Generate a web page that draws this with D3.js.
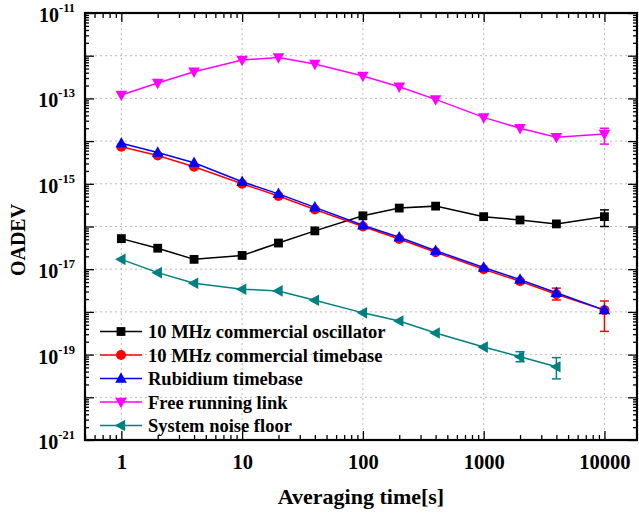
<!DOCTYPE html>
<html>
<head>
<meta charset="utf-8">
<script src="https://cdn.jsdelivr.net/npm/d3@7"></script>
<style>
  body { margin: 0; background: #fff; }
  text { font-family: "Liberation Serif", "Times New Roman", serif; font-weight: bold; }
</style>
</head>
<body>
<div id="vis"></div>
<script>
// averaging times
let tau = [1, 2, 4, 10, 20, 40, 100, 200, 400, 1000, 2000, 4000, 10000]

let oscillator = [5.2e-17, 3.1e-17, 1.7e-17, 2.1e-17, 4.1e-17, 7.9e-17, 1.78e-16, 2.7e-16, 3.0e-16, 1.7e-16, 1.42e-16, 1.15e-16, 1.7e-16]
let timebase   = [7.4e-15, 4.6e-15, 2.5e-15, 1.0e-15, 5.2e-16, 2.5e-16, 1.0e-16, 5.1e-17, 2.5e-17, 1.0e-17, 5.2e-18, 2.6e-18, 1.1e-18]
let rubidium   = [8.9e-15, 5.4e-15, 3.1e-15, 1.12e-15, 5.8e-16, 2.8e-16, 1.07e-16, 5.6e-17, 2.7e-17, 1.1e-17, 5.7e-18, 2.8e-18, 1.1e-18]
let freeLink   = [1.2e-13, 2.3e-13, 4.2e-13, 7.9e-13, 9.1e-13, 6.4e-13, 3.35e-13, 1.88e-13, 9.5e-14, 3.6e-14, 2.0e-14, 1.23e-14, 1.47e-14]
let noiseTau   = [1, 2, 4, 10, 20, 40, 100, 200, 400, 1000, 2000, 4000]
let noiseFloor = [1.7e-17, 8.3e-18, 4.7e-18, 3.4e-18, 3.1e-18, 1.87e-18, 9.5e-19, 6.1e-19, 3.2e-19, 1.5e-19, 8.9e-20, 5.2e-20]

// visible error bars: [tau, low, high]
let oscillatorErr = [[10000, 1.0e-16, 2.45e-16]]
let timebaseErr   = [[4000, 1.9e-18, 3.6e-18], [10000, 3.5e-19, 1.8e-18]]
let freeLinkErr   = [[10000, 8.5e-15, 2.0e-14]]
let noiseErr      = [[2000, 6.8e-20, 1.17e-19], [4000, 2.7e-20, 8.5e-20]]

let seriesNames = ['10 MHz commercial oscillator', '10 MHz commercial timebase', 'Rubidium timebase', 'Free running link', 'System noise floor']
let xTickLabels = [1, 10, 100, 1000, 10000]
let yTickLabels = [-21, -19, -17, -15, -13, -11]

let series = [
  {name: seriesNames[0], x: tau, y: oscillator, err: oscillatorErr, color: '#000000', symbol: 'square'},
  {name: seriesNames[1], x: tau, y: timebase, err: timebaseErr, color: '#ff0000', symbol: 'circle'},
  {name: seriesNames[2], x: tau, y: rubidium, err: [], color: '#0000ff', symbol: 'up'},
  {name: seriesNames[3], x: tau, y: freeLink, err: freeLinkErr, color: '#ff00ff', symbol: 'down'},
  {name: seriesNames[4], x: noiseTau, y: noiseFloor, err: noiseErr, color: '#008080', symbol: 'left'}
]

let width = 639, height = 513
let margin = {left: 85, right: 2, top: 13, bottom: 73}

let svg = d3.select('#vis').append('svg')
  .attr('width', width)
  .attr('height', height)

let x = d3.scaleLog().domain([0.5, 18600]).range([margin.left, width - margin.right])
let y = d3.scaleLog().domain([1e-21, 1e-11]).range([height - margin.bottom, margin.top])

let x0 = margin.left, x1 = width - margin.right
let y0 = height - margin.bottom, y1 = margin.top

// grid
let decadesY = d3.range(-20, -11).map(e => Math.pow(10, e))
svg.append('g').selectAll('line').data(decadesY).join('line')
  .attr('x1', x0).attr('x2', x1)
  .attr('y1', d => y(d)).attr('y2', d => y(d))
  .attr('stroke', '#bbb').attr('stroke-width', 1).attr('stroke-dasharray', '2,3')
svg.append('g').selectAll('line').data(xTickLabels).join('line')
  .attr('x1', d => x(d)).attr('x2', d => x(d))
  .attr('y1', y1).attr('y2', y0)
  .attr('stroke', '#bbb').attr('stroke-width', 1).attr('stroke-dasharray', '2,3')

// tick values
let xMinor = x.ticks().filter(d => !xTickLabels.includes(d))
let yAllTicks = y.ticks(100)
let yMajor = d3.range(-21, -10).map(e => Math.pow(10, e))
let yMinor = yAllTicks.filter(d => Math.abs(Math.log10(d) - Math.round(Math.log10(d))) > 1e-6)

function styleAxis(g) {
  g.select('.domain').remove()
  g.selectAll('line').attr('stroke', '#000').attr('stroke-width', 1.3)
}

// bottom
svg.append('g').attr('transform', `translate(0,${y0})`)
  .call(d3.axisBottom(x).tickValues(xMinor).tickSize(-5).tickFormat(''))
  .call(styleAxis)
svg.append('g').attr('transform', `translate(0,${y0})`)
  .call(d3.axisBottom(x).tickValues(xTickLabels).tickSize(-9).tickPadding(14).tickFormat(d3.format('d')))
  .call(styleAxis)
  .selectAll('text').attr('font-size', 20.5).attr('fill', '#000')
  .attr('font-family', '"Liberation Serif", serif').attr('font-weight', 'bold')
// top
svg.append('g').attr('transform', `translate(0,${y1})`)
  .call(d3.axisTop(x).tickValues(xMinor).tickSize(-5).tickFormat(''))
  .call(styleAxis)
svg.append('g').attr('transform', `translate(0,${y1})`)
  .call(d3.axisTop(x).tickValues(xTickLabels).tickSize(-9).tickFormat(''))
  .call(styleAxis)
// left
svg.append('g').attr('transform', `translate(${x0},0)`)
  .call(d3.axisLeft(y).tickValues(yMinor).tickSize(-4).tickFormat(''))
  .call(styleAxis)
svg.append('g').attr('transform', `translate(${x0},0)`)
  .call(d3.axisLeft(y).tickValues(yMajor).tickSize(-9).tickFormat(''))
  .call(styleAxis)
// right
svg.append('g').attr('transform', `translate(${x1},0)`)
  .call(d3.axisRight(y).tickValues(yMinor).tickSize(-4).tickFormat(''))
  .call(styleAxis)
svg.append('g').attr('transform', `translate(${x1},0)`)
  .call(d3.axisRight(y).tickValues(yMajor).tickSize(-9).tickFormat(''))
  .call(styleAxis)

// frame
svg.append('rect')
  .attr('x', x0).attr('y', y1)
  .attr('width', x1 - x0).attr('height', y0 - y1)
  .attr('fill', 'none').attr('stroke', '#000').attr('stroke-width', 2.2)

// y labels with superscript
let yl = svg.append('g').selectAll('text').data(yTickLabels).join('text')
  .attr('x', 75)
  .attr('y', d => y(Math.pow(10, d)) + 9)
  .attr('text-anchor', 'end')
  .attr('font-size', 20)
yl.append('tspan').text('10')
yl.append('tspan').attr('dy', -10).attr('font-size', 12.5).text(d => d)

// axis titles
svg.append('text')
  .attr('x', (x0 + x1) / 2).attr('y', 504)
  .attr('text-anchor', 'middle').attr('font-size', 22)
  .text('Averaging time[s]')
svg.append('text')
  .attr('transform', 'translate(25,240) rotate(-90)')
  .attr('text-anchor', 'middle').attr('font-size', 20)
  .text('OADEV')

let line = d3.line().x(d => x(d[0])).y(d => y(d[1]))

function marker(g, sym, color) {
  if (sym === 'square') {
    g.append('rect').attr('x', -4.4).attr('y', -4.4).attr('width', 8.8).attr('height', 8.8).attr('fill', color)
  } else if (sym === 'circle') {
    g.append('circle').attr('r', 5).attr('fill', color)
  } else {
    let rot = {up: 0, down: 180, left: -90}[sym]
    g.append('path').attr('d', 'M0,-6.3 L5.8,4.2 L-5.8,4.2 Z').attr('fill', color)
      .attr('transform', `rotate(${rot})`)
  }
}

series.forEach(s => {
  let pts = s.x.map((t, i) => [t, s.y[i]])
  let g = svg.append('g')
  g.append('path').datum(pts).attr('d', line)
    .attr('fill', 'none').attr('stroke', s.color).attr('stroke-width', 1.5)
  // error bars
  let eb = g.selectAll('.eb').data(s.err).join('g')
  eb.append('line')
    .attr('x1', d => x(d[0])).attr('x2', d => x(d[0]))
    .attr('y1', d => y(d[1])).attr('y2', d => y(d[2]))
    .attr('stroke', s.color).attr('stroke-width', 1.5)
  eb.selectAll('.cap').data(d => [[d[0], d[1]], [d[0], d[2]]]).join('line')
    .attr('x1', d => x(d[0]) - 4.5).attr('x2', d => x(d[0]) + 4.5)
    .attr('y1', d => y(d[1])).attr('y2', d => y(d[1]))
    .attr('stroke', s.color).attr('stroke-width', 1.5)
  g.selectAll('.pt').data(pts).join('g')
    .attr('transform', d => `translate(${x(d[0])},${y(d[1])})`)
    .each(function() { marker(d3.select(this), s.symbol, s.color) })
})

// legend
let legend = svg.append('g').selectAll('g').data(series).join('g')
  .attr('transform', (d, i) => `translate(0,${331.5 + i * 23.5})`)
legend.append('line').attr('x1', 100).attr('x2', 142).attr('y1', 0).attr('y2', 0)
  .attr('stroke', d => d.color).attr('stroke-width', 1.5)
legend.append('g').attr('transform', 'translate(121,0)')
  .each(function(d) { marker(d3.select(this), d.symbol, d.color) })
legend.append('text').attr('x', 148).attr('y', 6.5)
  .attr('font-size', 18.5).text(d => d.name)
</script>
</body>
</html>
